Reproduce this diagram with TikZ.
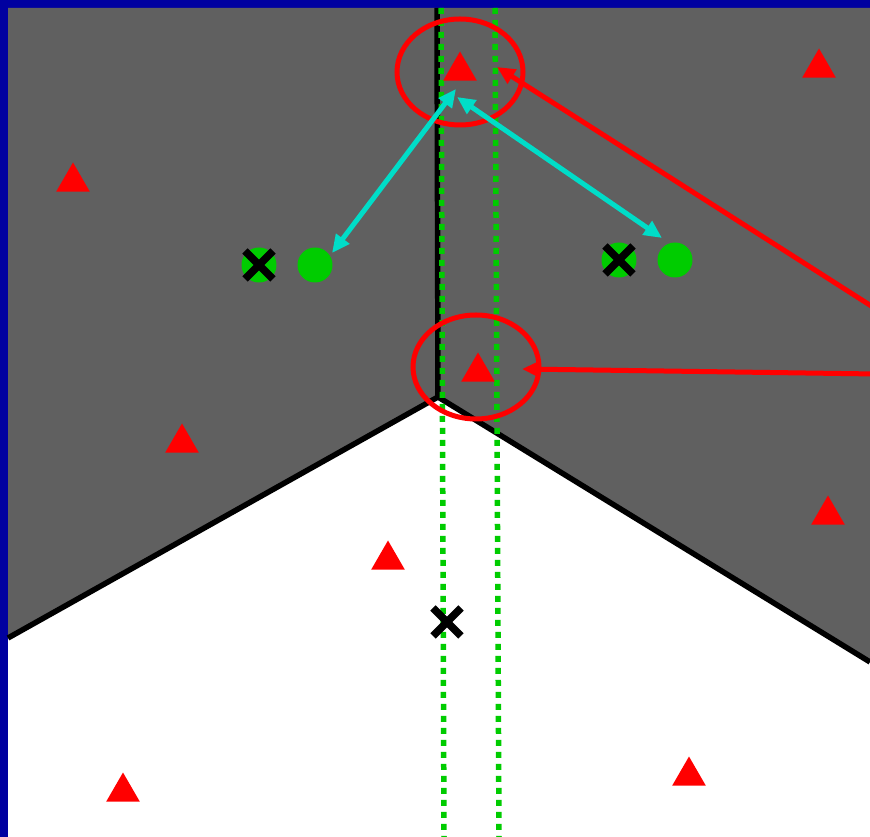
\documentclass[tikz,border=0pt]{standalone}
\usepackage{tikz}
\usetikzlibrary{arrows.meta,shapes.geometric}
\definecolor{AzulMarco}{RGB}{0,0,160}
\definecolor{GrisRegion}{RGB}{96,96,96}
\definecolor{VerdePunto}{RGB}{0,204,0}
\definecolor{CianFlecha}{RGB}{0,221,200}
\definecolor{RojoSemilla}{RGB}{255,0,0}

\begin{document}
\begin{tikzpicture}[x=0.02cm,y=-0.02cm,>={Triangle[length=0.36cm,width=0.32cm]},
  semilla/.style={regular polygon,regular polygon sides=3,minimum size=0.78cm,inner sep=0pt,fill=RojoSemilla},
  punto/.style={circle,minimum size=0.7cm,inner sep=0pt,fill=VerdePunto},
  cruz/.style={line width=0.15cm},
  borde/.style={line width=0.11cm},
  frontera/.style={VerdePunto,line width=0.11cm,dash pattern=on 0.12cm off 0.12cm}]
  \useasboundingbox (0,0) rectangle (870,837);
  \fill[white] (0,0) rectangle (870,837);
  \fill[AzulMarco] (0,0) rectangle (870,8);
  \fill[AzulMarco] (0,0) rectangle (8,837);
  % regiones
  \coordinate (V) at (438,397);
  \fill[GrisRegion] (8,8) -- (870,8) -- (870,662) -- (V) -- (8,638) -- cycle;
  \draw[borde] (437,8) -- (V);
  \draw[borde] (8,638) -- (V) -- (870,662);
  % fronteras punteadas
  \draw[frontera] (441,8) -- (444,837);
  \draw[frontera] (495,8) -- (499,837);
  % semillas
  \foreach \x/\y [count=\i] in {460/71,819/68,73/182,182/443,388/560,478/372,828/515,123/792,689/776}
    \node[semilla] (s\i) at (\x,\y) {};
  \draw[RojoSemilla,line width=0.1cm] (460,72) ellipse [x radius=63, y radius=53];
  \draw[RojoSemilla,line width=0.1cm] (476,367) ellipse [x radius=63, y radius=52];
  % puntos verdes
  \node[punto] (g1) at (259,265) {};
  \node[punto] (g2) at (315,265) {};
  \node[punto] (g3) at (619,260) {};
  \node[punto] (g4) at (675,260) {};
  \foreach \x/\y in {259/265,619/260,447/622}
    \draw[cruz] ({\x-14},{\y-14}) -- ({\x+14},{\y+14}) ({\x-14},{\y+14}) -- ({\x+14},{\y-14});
  % flechas
  \coordinate (c1a) at (456,89);
  \coordinate (c1b) at (332,253);
  \coordinate (c2a) at (457,97);
  \coordinate (c2b) at (662,238);
  \draw[<->,CianFlecha,line width=0.1cm] (c1a) -- (c1b);
  \draw[<->,CianFlecha,line width=0.1cm] (c2a) -- (c2b);
  \coordinate (r1) at (876,309);
  \coordinate (r2) at (876,374);
  \draw[->,RojoSemilla,line width=0.1cm] (r1) -- (497,67);
  \draw[->,RojoSemilla,line width=0.1cm] (r2) -- (522,369);
\end{tikzpicture}
\end{document}
